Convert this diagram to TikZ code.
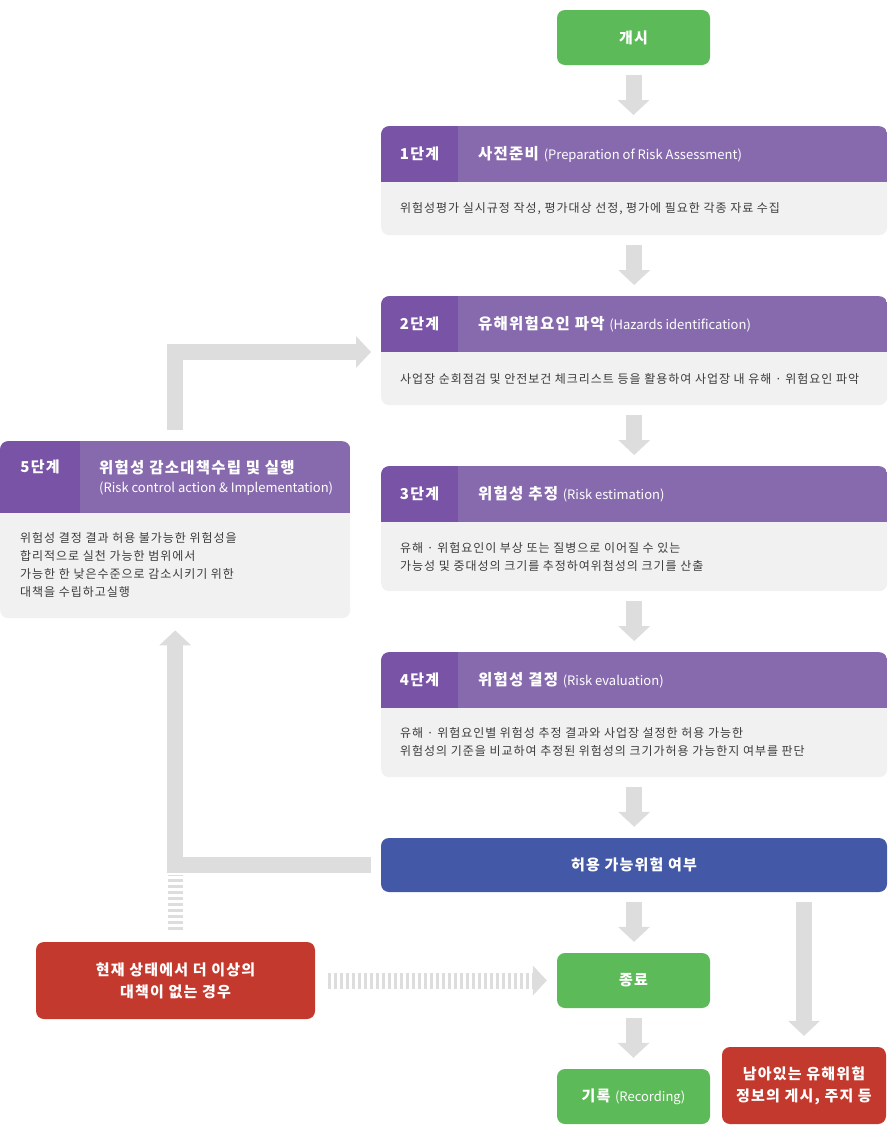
\documentclass[tikz,border=0pt]{standalone}
\usepackage{fontspec}
\setmainfont{Noto Sans CJK KR}[LetterSpace=8]
\newfontfamily\latinfont{Noto Sans CJK KR}
\usepackage{tikz}
\usetikzlibrary{arrows.meta, positioning, calc}
\definecolor{startgreen}{RGB}{92, 187, 88}
\definecolor{headpurple}{RGB}{135, 106, 174}
\definecolor{labelpurple}{RGB}{120, 83, 166}
\definecolor{cardgray}{RGB}{241, 241, 241}
\definecolor{decideblue}{RGB}{67, 88, 166}
\definecolor{stopred}{RGB}{196, 57, 45}
\definecolor{arrowgray}{RGB}{221, 221, 221}
\definecolor{bodytext}{RGB}{60, 60, 60}

\begin{document}
\begin{tikzpicture}[
    x=1pt, y=-1pt,
    card/.style 2 args={rectangle, fill=cardgray, rounded corners=8pt, anchor=north west, inner sep=0pt, minimum width=506pt,
        path picture={
            \fill[headpurple, sharp corners] (path picture bounding box.north west) rectangle ([yshift=-#1]path picture bounding box.north east);
            \fill[labelpurple, sharp corners] (path picture bounding box.north west) rectangle ([xshift=#2, yshift=-#1]path picture bounding box.north west);}},
    steplabel/.style={font=\bfseries\fontsize{15}{18}\selectfont, text=white, inner sep=0pt},
    steptitle/.style={font=\bfseries\fontsize{15.5}{18}\selectfont, text=white, anchor=west, inner sep=0pt},
    stepbody/.style={font=\fontsize{12}{18}\selectfont, text=bodytext, align=left, anchor=west, inner sep=0pt},
    flow/.style={rectangle, rounded corners=8pt, text=white, inner sep=0pt, minimum width=153pt, minimum height=55pt, font=\bfseries\fontsize{15}{18}\selectfont},
    endbox/.style={flow, fill=stopred, align=center, font=\bfseries\fontsize{15}{22}\selectfont},
    bigarrow/.style={draw=arrowgray, line width=16pt, line join=miter, -{Triangle[width=32pt, length=15pt, line width=0pt]}, shorten <=10pt, shorten >=11pt},
    dashbar/.style={draw=arrowgray, line width=15pt, dash pattern=on 3pt off 3pt}
]
\newcommand{\sub}{\latinfont\mdseries\fontsize{13}{15}\selectfont}

\useasboundingbox (0,0) rectangle (887,1143);

% 시작
\node [flow, fill=startgreen] (start) at (633.5, 37.5) {개시};

% 1~4단계
\node [card={56pt}{77pt}, minimum height=109pt] (s1) at (381, 126) {};
\node [steplabel] (s1l) at (419.5, 154) {1단계};
\node [steptitle] (s1t) at (478, 154) {사전준비 {\sub (Preparation of Risk Assessment)}};
\node [stepbody] (s1b) at (400, 208.5) {위험성평가 실시규정 작성, 평가대상 선정, 평가에 필요한 각종 자료 수집};

\node [card={56pt}{77pt}, minimum height=109pt] (s2) at (381, 296) {};
\node [steplabel] (s2l) at (419.5, 324) {2단계};
\node [steptitle] (s2t) at (478, 324) {유해위험요인 파악 {\sub (Hazards identification)}};
\node [stepbody] (s2b) at (400, 378.5) {사업장 순회점검 및 안전보건 체크리스트 등을 활용하여 사업장 내 유해 · 위험요인 파악};

\node [card={56pt}{77pt}, minimum height=125pt] (s3) at (381, 466) {};
\node [steplabel] (s3l) at (419.5, 494) {3단계};
\node [steptitle] (s3t) at (478, 494) {위험성 추정 {\sub (Risk estimation)}};
\node [stepbody] (s3b) at (400, 557) {유해 · 위험요인이 부상 또는 질병으로 이어질 수 있는\\가능성 및 중대성의 크기를 추정하여위첨성의 크기를 산출};

\node [card={56pt}{77pt}, minimum height=125pt] (s4) at (381, 652) {};
\node [steplabel] (s4l) at (419.5, 680) {4단계};
\node [steptitle] (s4t) at (478, 680) {위험성 결정 {\sub (Risk evaluation)}};
\node [stepbody] (s4b) at (400, 742) {유해 · 위험요인별 위험성 추정 결과와 사업장 설정한 허용 가능한\\위험성의 기준을 비교하여 추정된 위험성의 크기가허용 가능한지 여부를 판단};

% 5단계
\node [card={72pt}{80pt}, minimum width=350pt, minimum height=177pt] (s5) at (0, 441) {};
\node [steplabel] (s5l) at (40, 467) {5단계};
\node [steptitle] (s5t) at (99, 468) {위험성 감소대책수립 및 실행};
\node [steptitle, font=\sub, text=white] (s5s) at (99, 489) {(Risk control action \& Implementation)};
\node [stepbody] (s5b) at (20, 565) {위험성 결정 결과 허용 불가능한 위험성을\\합리적으로 실천 가능한 범위에서\\가능한 한 낮은수준으로 감소시키기 위한\\대책을 수립하고실행};

% 판단 및 종료
\node [flow, fill=decideblue, minimum width=506pt, minimum height=54pt] (decide) at (634, 865) {허용 가능위험 여부};
\node [flow, fill=startgreen] (stop) at (633.5, 980.5) {종료};
\node [flow, fill=startgreen] (record) at (633.5, 1096.5) {기록 {\sub (Recording)}};
\node [endbox, minimum width=164pt, minimum height=77pt] (remain) at (804, 1085.5) {남아있는 유해위험\\정보의 게시, 주지 등};
\node [endbox, minimum width=279pt, minimum height=77pt] (nomore) at (175.5, 980.5) {현재 상태에서 더 이상의\\대책이 없는 경우};

% 화살표
\draw [bigarrow] (start.south) -- (start.south |- s1.north);
\draw [bigarrow] (s1.south) -- (s2.north);
\draw [bigarrow] (s2.south) -- (s3.north);
\draw [bigarrow] (s3.south) -- (s4.north);
\draw [bigarrow] (s4.south) -- (s4.south |- decide.north);
\draw [bigarrow] (decide.south) -- (decide.south |- stop.north);
\draw [bigarrow] (stop.south) -- (record.north);
\draw [bigarrow] (decide.south -| remain.north) -- (remain.north);

\draw [bigarrow, shorten >=12pt] (decide.west) -| (s5.south);
\draw [bigarrow, shorten <=11pt, shorten >=10pt] (s5.north) |- ([yshift=-56pt]s2.north west);

\draw [dashbar, shorten <=12pt, shorten >=9.5pt] (nomore.north) -- (nomore.north |- decide.west);
\draw [dashbar, line width=16pt, -{Triangle[width=30pt, length=14pt, line width=0pt]}, shorten <=13pt, shorten >=10pt] (nomore.east) -- (stop.west);

\end{tikzpicture}
\end{document}
